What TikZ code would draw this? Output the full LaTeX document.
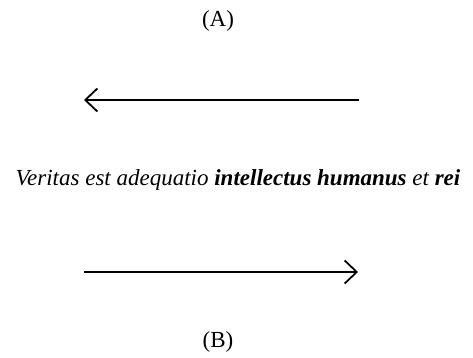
\documentclass[tikz,border=0pt]{standalone}
\usepackage{fontspec}
\setmainfont{Liberation Serif}
\usetikzlibrary{positioning, arrows.meta}

\begin{document}
\begin{tikzpicture}[
  x=1pt, y=-1pt,
  tag/.style={font=\fontsize{23}{27}\selectfont},
  sentence/.style={font=\fontsize{23}{27}\selectfont\itshape},
  relation/.style={line width=1.8pt, -{Straight Barb[length=12pt, width=23pt]}},
]
\useasboundingbox (0,0) rectangle (473,358);

% Labels
\node[tag] (a) at (218,21) {(A)};
\node[tag] (b) at (218,342) {(B)};
\node[sentence] (verum) at (238,180) {Veritas est adequatio \textbf{intellectus humanus} et \textbf{rei}};

% Arrow ends
\coordinate (topR) at (359,100);
\coordinate (topL) at (84,100);
\coordinate (botL) at (84,272);
\coordinate (botR) at (358,272);

% Arrows
\draw[relation] (topR) -- (topL);
\draw[relation] (botL) -- (botR);

\end{tikzpicture}
\end{document}
